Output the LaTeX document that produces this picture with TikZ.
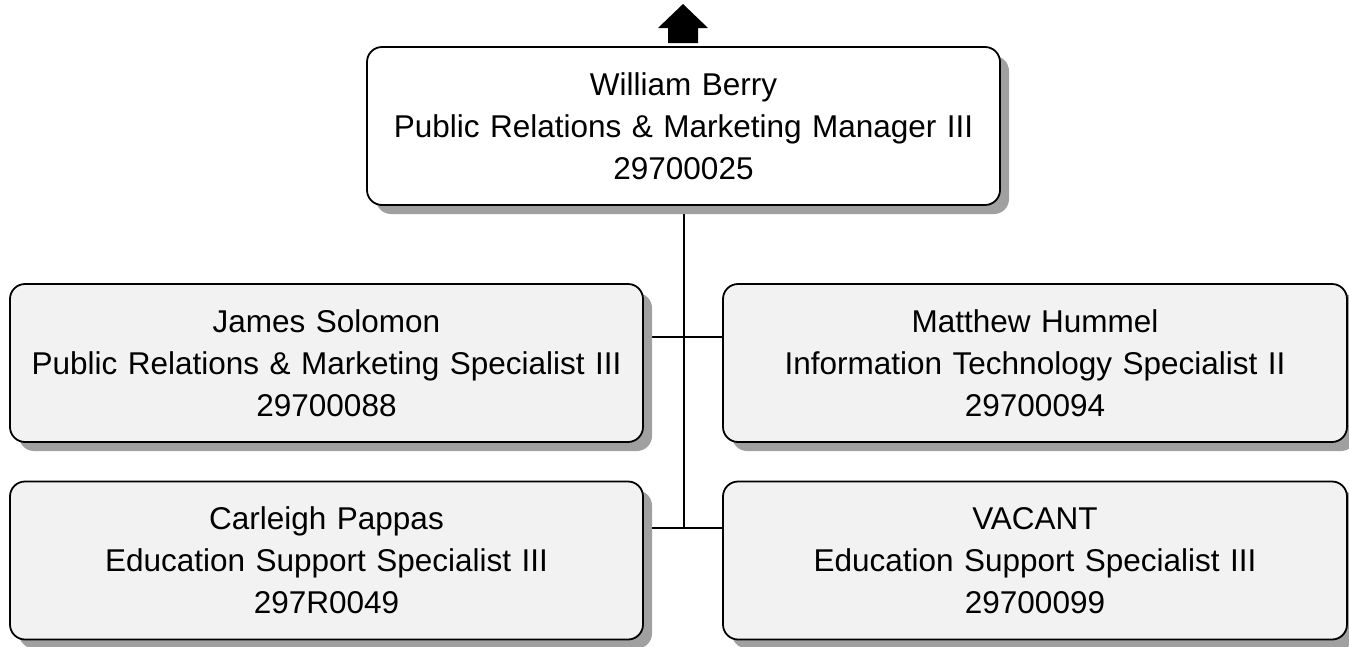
\documentclass[tikz,border=0pt]{standalone}
\usepackage{fontspec}
\setmainfont{Liberation Sans}
\usetikzlibrary{shadows,backgrounds}
\definecolor{shadowgray}{HTML}{A0A0A0}
\definecolor{cardfill}{HTML}{F2F2F2}
\tikzset{
  card/.style={draw=black, line width=1.8pt, rounded corners=15pt, fill=cardfill,
    align=center, inner sep=0pt, minimum height=158pt,
    font=\fontsize{31.5}{42}\selectfont,
    drop shadow={shadow xshift=9pt, shadow yshift=-9pt, fill=shadowgray, opacity=1}},
  link/.style={line width=2pt}
}
\begin{document}
\begin{tikzpicture}[x=1pt,y=-1pt,line join=round]
\useasboundingbox (0,0) rectangle (1349,646);
\path
(683.5,126) coordinate (B)
(326.5,363) coordinate (L1)
(326.5,560.5) coordinate (L2)
(1035,363) coordinate (R1)
(1035,560.5) coordinate (R2)
(683,4) coordinate (T)
;
\node[card, fill=white, text width=633pt] (boss) at (B)
  {William Berry\\Public Relations \& Marketing Manager III\\29700025};
\node[card, text width=633pt] (solomon) at (L1)
  {James Solomon\\Public Relations \& Marketing Specialist III\\29700088};
\node[card, text width=633pt] (pappas) at (L2)
  {Carleigh Pappas\\Education Support Specialist III\\297R0049};
\node[card, text width=624pt] (hummel) at (R1)
  {Matthew Hummel\\Information Technology Specialist II\\29700094};
\node[card, text width=624pt] (vacant) at (R2)
  {VACANT\\Education Support Specialist III\\29700099};
% reporting lines
\begin{scope}[on background layer]
\coordinate (j1) at (boss.south |- 0,337);
\coordinate (j2) at (boss.south |- 0,528);
\draw[link] (boss.south) -- (j2);
\draw[link] (solomon.east |- j1) -- (hummel.west |- j1);
\draw[link] (pappas.east |- j2) -- (vacant.west |- j2);
\end{scope}
% up arrow
\fill[black] (T) -- ++(25,24) -- ++(-10,0) -- ++(0,15) -- ++(-30,0)
  -- ++(0,-15) -- ++(-10,0) -- cycle;
\end{tikzpicture}
\end{document}
